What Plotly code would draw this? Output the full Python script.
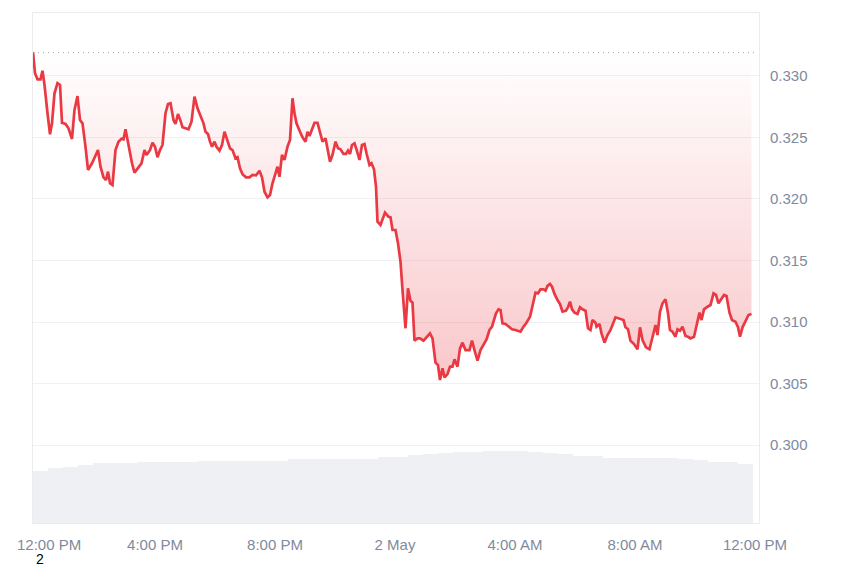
import pandas as pd
import plotly.graph_objects as go

# ---- data ----
start_time = "2024-05-01 12:00"
open_price = 0.3319

minutes = [
    -4, 0, 5, 11, 15, 19, 25, 30, 34, 39, 45, 50, 54, 61, 67, 74, 79, 85, 90, 95,
    101, 106, 114, 121, 126, 131, 137, 142, 146, 150, 155, 161, 167, 173, 177, 181, 187, 194, 199, 206,
    213, 219, 223, 230, 235, 240,
    245, 250, 255, 261, 266, 271, 277, 281, 286, 291, 295, 301, 307, 313, 315, 319, 325, 331, 337, 341,
    346, 350, 354, 359, 363, 369, 374, 379, 385, 390, 395, 401, 405, 410, 415, 422, 429, 435, 442, 449,
    454, 459, 465, 470,
    475, 481, 485, 489, 494, 499, 505, 510, 514, 515, 519, 523, 530, 535, 541, 545, 549, 554, 559, 565,
    570, 575, 581, 585, 590, 595, 601, 606, 611, 617, 622, 626, 630, 634, 639, 643, 649, 654, 659, 663,
    669, 673, 678, 682,
    685, 691, 700, 707, 711, 715, 721, 726, 731, 735, 741, 746, 751, 755, 759, 765, 770, 777, 783, 790,
    795, 801, 806, 810, 815, 819, 825, 830, 835, 839, 845, 850, 855, 861, 869, 874, 879, 885, 891, 898,
    903, 909, 914,
    922, 927, 931, 935, 941, 947, 954, 961, 967, 971, 977, 983, 990, 995, 1001, 1006, 1011, 1017, 1021, 1025,
    1030, 1034, 1039, 1045, 1050, 1055, 1062, 1066, 1070, 1074, 1079, 1085, 1090, 1095, 1101, 1106, 1111, 1115, 1121, 1123,
    1129, 1133, 1139, 1145, 1151, 1161, 1169, 1177,
    1181, 1186, 1191, 1198, 1205, 1210, 1215, 1222, 1229, 1234, 1241, 1245, 1250, 1255, 1261, 1266, 1270, 1275, 1281, 1285,
    1290, 1295, 1301, 1306, 1311, 1318, 1323, 1329, 1333, 1338, 1345, 1351, 1357, 1362, 1367, 1373, 1378, 1383, 1389, 1394,
    1401, 1406, 1410, 1415, 1422, 1427, 1433,
]

prices = [
    0.33195, 0.33022, 0.32973, 0.32973, 0.33043, 0.32927, 0.32697, 0.32526, 0.32615, 0.32859,
    0.32941, 0.32927, 0.32620, 0.32610, 0.32575, 0.32488, 0.32724, 0.32837, 0.32642, 0.32615,
    0.32425, 0.32236, 0.32290, 0.32358, 0.32398, 0.32263, 0.32176, 0.32154, 0.32222, 0.32128,
    0.32114, 0.32398, 0.32466, 0.32490, 0.32485, 0.32567, 0.32425, 0.32290, 0.32214, 0.32250,
    0.32290, 0.32398, 0.32358, 0.32398, 0.32458, 0.32425,
    0.32339, 0.32398, 0.32439, 0.32697, 0.32772, 0.32778, 0.32642, 0.32610, 0.32691, 0.32637,
    0.32583, 0.32575, 0.32567, 0.32628, 0.32697, 0.32832, 0.32737, 0.32669, 0.32615, 0.32547,
    0.32528, 0.32466, 0.32425, 0.32466, 0.32425, 0.32393, 0.32439, 0.32547, 0.32466, 0.32412,
    0.32398, 0.32331, 0.32339, 0.32250, 0.32201, 0.32176, 0.32176, 0.32195, 0.32193, 0.32230,
    0.32176, 0.32059, 0.32014, 0.32033,
    0.32128, 0.32222, 0.32263, 0.32181, 0.32358, 0.32317, 0.32425, 0.32480, 0.32697, 0.32819,
    0.32697, 0.32615, 0.32547, 0.32502, 0.32466, 0.32547, 0.32512, 0.32567, 0.32620, 0.32620,
    0.32547, 0.32466, 0.32493, 0.32412, 0.32303, 0.32358, 0.32466, 0.32412, 0.32404, 0.32366,
    0.32366, 0.32393, 0.32366, 0.32439, 0.32453, 0.32404, 0.32317, 0.32439, 0.32447, 0.32372,
    0.32276, 0.32290, 0.32241, 0.32100,
    0.31815, 0.31789, 0.31889, 0.31856, 0.31851, 0.31748, 0.31748, 0.31640, 0.31490, 0.31260,
    0.30949, 0.31274, 0.31173, 0.31157, 0.30848, 0.30867, 0.30867, 0.30848, 0.30880, 0.30908,
    0.30867, 0.30669, 0.30650, 0.30528, 0.30624, 0.30550, 0.30577, 0.30637, 0.30637, 0.30697,
    0.30637, 0.30786, 0.30832, 0.30772, 0.30772, 0.30848, 0.30772, 0.30685, 0.30772, 0.30827,
    0.30859, 0.30935, 0.30962,
    0.31071, 0.31103, 0.31098, 0.30989, 0.30984, 0.30962, 0.30941, 0.30935, 0.30929, 0.30921,
    0.30962, 0.30994, 0.31043, 0.31124, 0.31238, 0.31233, 0.31266, 0.31266, 0.31254, 0.31293,
    0.31309, 0.31287, 0.31228, 0.31179, 0.31146, 0.31084, 0.31092, 0.31120, 0.31165, 0.31103,
    0.31076, 0.31065, 0.31120, 0.31103, 0.31092, 0.30949, 0.30935, 0.31016, 0.30994, 0.30962,
    0.30984, 0.30908, 0.30832, 0.30894, 0.30935, 0.31038, 0.31030, 0.31016,
    0.30957, 0.30941, 0.30848, 0.30821, 0.30778, 0.30957, 0.30854, 0.30794, 0.30778, 0.30854,
    0.30976, 0.30894, 0.31084, 0.31152, 0.31185, 0.31071, 0.30935, 0.30921, 0.30880, 0.30941,
    0.30929, 0.30962, 0.30886, 0.30880, 0.30867, 0.30880, 0.30976, 0.31076, 0.31016, 0.31103,
    0.31124, 0.31138, 0.31233, 0.31220, 0.31152, 0.31185, 0.31220, 0.31211, 0.31076, 0.31016,
    0.31002, 0.30957, 0.30880, 0.30957, 0.31016, 0.31057, 0.31065,
]

# volume bars: one per 30 minutes, centred at these minute offsets
volume_minutes = [11 + 30 * i for i in range(48)]
volumes = [
    52.5, 54.7, 56.3, 58.0, 59.7, 59.7, 59.7, 61.0, 61.0, 61.0,
    61.5, 62.3, 62.0, 62.0, 62.0, 62.0, 62.5, 63.7, 63.7, 63.7,
    63.7, 63.7, 63.7, 65.7, 66.5, 68.0, 69.0, 69.7, 71.0, 71.5,
    72.0, 72.0, 72.0, 71.0, 70.5, 69.0, 67.5, 67.0, 65.5, 64.7,
    64.7, 65.0, 65.0, 64.2, 63.0, 61.0, 60.7, 59.0,
]

tick_hours = [4, 8, 12, 16, 20, 24]
tick_labels = ["4:00 PM", "8:00 PM", "2 May", "4:00 AM", "8:00 AM", "12:00 PM"]
y_ticks = [0.300, 0.305, 0.310, 0.315, 0.320, 0.325, 0.330]

# ---- build ----
base = pd.Timestamp(start_time)
t = base + pd.to_timedelta(minutes, unit="m")
tv = base + pd.to_timedelta(volume_minutes, unit="m")
x_range = [base + pd.Timedelta(minutes=-4), base + pd.Timedelta(minutes=1448)]

RED = "#ea3943"
LABEL = "#808a9d"
FONT = "Liberation Sans, Arial, sans-serif"

fig = go.Figure()

fig.add_trace(go.Bar(
    x=tv, y=volumes, width=30 * 60 * 1000,
    marker=dict(color="#eef0f3", line=dict(width=0)),
    yaxis="y2", hoverinfo="skip", showlegend=False,
))

fig.add_trace(go.Scatter(
    x=t, y=[open_price] * len(minutes), mode="lines",
    line=dict(width=0, color="rgba(0,0,0,0)"), hoverinfo="skip", showlegend=False,
))
fig.add_trace(go.Scatter(
    x=t, y=prices, mode="lines",
    line=dict(color=RED, width=2.7),
    fill="tonexty",
    fillgradient=dict(
        type="vertical",
        colorscale=[[0, "rgba(234,57,67,0.28)"], [1, "rgba(234,57,67,0.0)"]],
        start=min(prices), stop=open_price,
    ),
    showlegend=False,
))

fig.add_shape(type="line", xref="x", yref="y",
              x0=x_range[0], x1=base + pd.Timedelta(minutes=1440),
              y0=open_price, y1=open_price,
              line=dict(color="#9a9fa8", width=1, dash="1px,4px"))

# the page body has an 8px margin, so the figure is 8px smaller than the window
fig.update_layout(
    width=842, height=559,
    margin=dict(l=25, r=91, t=5, b=44),
    paper_bgcolor="white", plot_bgcolor="white",
    bargap=0,
    font=dict(family=FONT, size=15, color=LABEL),
    xaxis=dict(
        type="date", range=x_range,
        tickvals=[base + pd.Timedelta(hours=h) for h in tick_hours],
        ticktext=tick_labels,
        showgrid=False, zeroline=False,
        showline=True, mirror=True, linecolor="#ebecef", linewidth=1,
        ticks="", ticklabelstandoff=8,
        tickfont=dict(family=FONT, size=15, color=LABEL),
    ),
    yaxis=dict(
        side="right", range=[0.29366, 0.33512],
        tickvals=y_ticks, ticktext=[f"{v:.3f}" for v in y_ticks],
        showgrid=True, gridcolor="#f0f1f3", gridwidth=1,
        zeroline=False,
        showline=True, mirror=True, linecolor="#ebecef", linewidth=1,
        ticks="", ticklabelstandoff=7,
        tickfont=dict(family=FONT, size=15, color=LABEL),
    ),
    yaxis2=dict(overlaying="y", range=[0, 510], visible=False),
    annotations=[
        dict(text="12:00 PM", xref="paper", yref="paper", x=(49 - 33) / 726, y=0,
             xanchor="center", yanchor="middle", yshift=-21, showarrow=False,
             font=dict(family=FONT, size=15, color=LABEL)),
        dict(text="2", xref="paper", yref="paper", x=(40 - 33) / 726, y=0,
             xanchor="center", yanchor="middle", yshift=-36, showarrow=False,
             font=dict(family=FONT, size=14, color="#000000")),
    ],
)

fig.write_html("out.html")
